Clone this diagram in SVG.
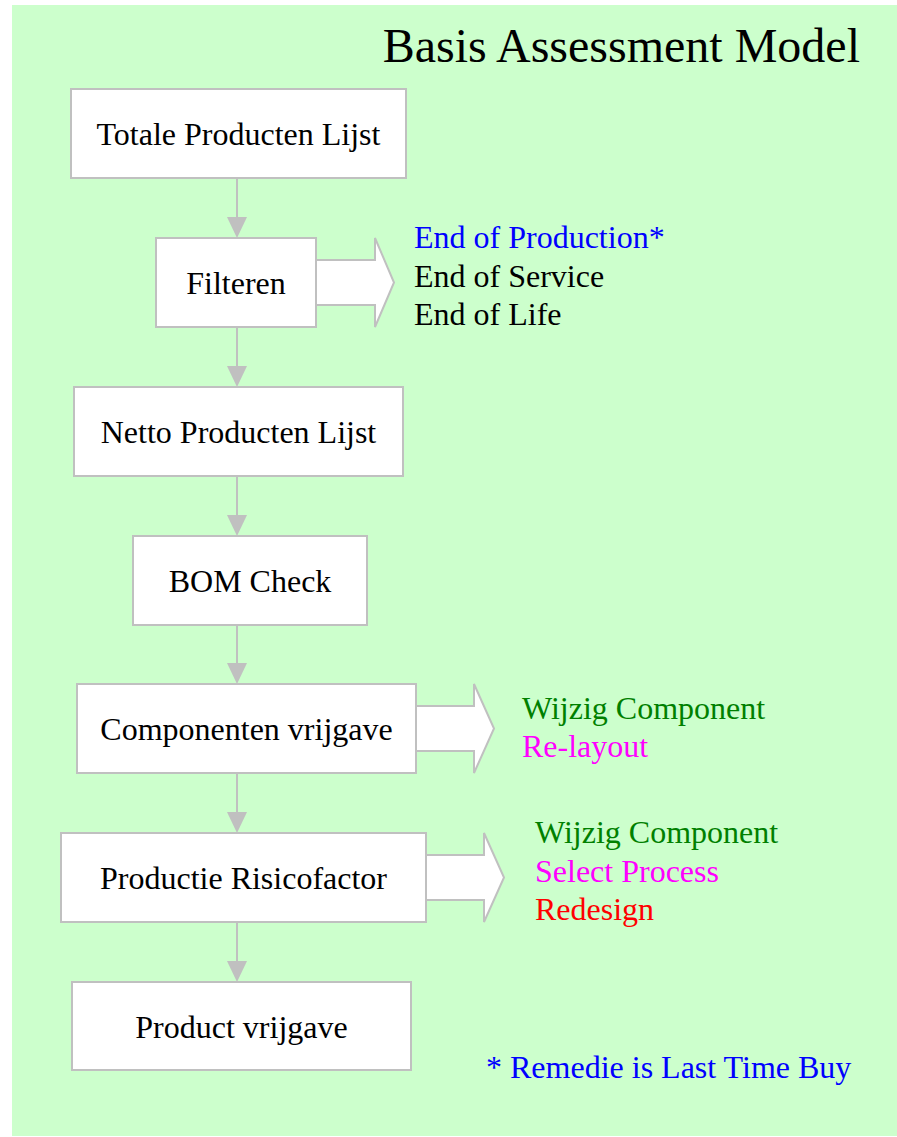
<svg xmlns="http://www.w3.org/2000/svg" width="897" height="1137" viewBox="0 0 897 1137">
<defs>
<style>
.box{fill:#fff;stroke:#c0c0c0;stroke-width:2}
.fat{fill:#fff;stroke:#c0c0c0;stroke-width:2;stroke-linejoin:miter}
.lbl{font-family:"Liberation Serif","Times New Roman",serif;font-size:32px;fill:#000}
.mid{text-anchor:middle}
.conn{stroke:#c0c0c0;stroke-width:2;fill:none}
.head{fill:#c0c0c0}
</style>
</defs>
<rect x="12" y="5" width="885" height="1131" fill="#ccffcc"/>
<text class="lbl" x="860" y="62" style="font-size:48px;text-anchor:end">Basis Assessment Model</text>
<g id="connectors">
<line class="conn" x1="237" y1="178" x2="237" y2="218"/><polygon class="head" points="227,217 247,217 237,238"/>
<line class="conn" x1="237" y1="327" x2="237" y2="367"/><polygon class="head" points="227,366 247,366 237,387"/>
<line class="conn" x1="237" y1="476" x2="237" y2="516"/><polygon class="head" points="227,515 247,515 237,536"/>
<line class="conn" x1="237" y1="625" x2="237" y2="664"/><polygon class="head" points="227,663 247,663 237,684"/>
<line class="conn" x1="237" y1="773" x2="237" y2="813"/><polygon class="head" points="227,812 247,812 237,833"/>
<line class="conn" x1="237" y1="922" x2="237" y2="962"/><polygon class="head" points="227,961 247,961 237,982"/>
<polygon class="fat" points="310,260 375,260 375,238 394,282.5 375,327 375,305 310,305"/>
<polygon class="fat" points="410,706 474,706 474,684 494,728.5 474,773 474,751 410,751"/>
<polygon class="fat" points="420,855 484,855 484,833 504,877.5 484,922 484,900 420,900"/>
</g>
<g id="n1"><rect class="box" x="71" y="89" width="335" height="89"/><text class="lbl mid" x="238.5" y="145">Totale Producten Lijst</text></g>
<g id="n2"><rect class="box" x="156" y="238" width="160" height="89"/><text class="lbl mid" x="236" y="294">Filteren</text></g>
<g id="n3"><rect class="box" x="74" y="387" width="329" height="89"/><text class="lbl mid" x="238.5" y="443">Netto Producten Lijst</text></g>
<g id="n4"><rect class="box" x="133" y="536" width="234" height="89"/><text class="lbl mid" x="250" y="592">BOM Check</text></g>
<g id="n5"><rect class="box" x="77" y="684" width="339" height="89"/><text class="lbl mid" x="246.5" y="740">Componenten vrijgave</text></g>
<g id="n6"><rect class="box" x="61" y="833" width="365" height="89"/><text class="lbl mid" x="243.5" y="889">Productie Risicofactor</text></g>
<g id="n7"><rect class="box" x="72" y="982" width="339" height="88"/><text class="lbl mid" x="241.5" y="1038">Product vrijgave</text></g>
<g id="notes">
<text class="lbl" x="414" y="248" fill="#0000ff" style="fill:#0000ff">End of Production*</text>
<text class="lbl" x="414" y="287">End of Service</text>
<text class="lbl" x="414" y="325">End of Life</text>
<text class="lbl" x="522" y="719" style="fill:#008000">Wijzig Component</text>
<text class="lbl" x="522" y="757" style="fill:#ff00ff">Re-layout</text>
<text class="lbl" x="535" y="843" style="fill:#008000">Wijzig Component</text>
<text class="lbl" x="535" y="882" style="fill:#ff00ff">Select Process</text>
<text class="lbl" x="535" y="920" style="fill:#ff0000">Redesign</text>
<text class="lbl" x="486" y="1078" style="fill:#0000ff">* Remedie is Last Time Buy</text>
</g>
</svg>
